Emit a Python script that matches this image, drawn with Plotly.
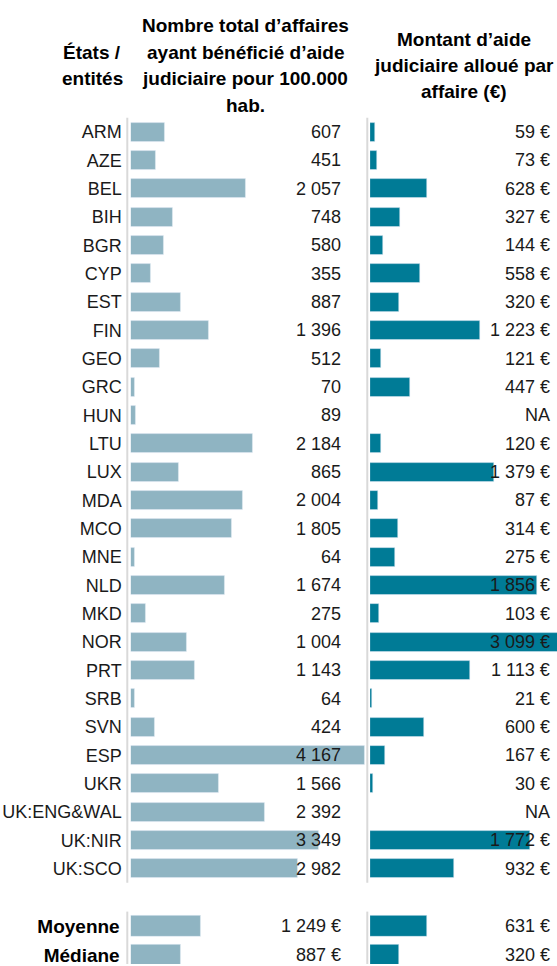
import plotly.graph_objects as go

countries = ["ARM", "AZE", "BEL", "BIH", "BGR", "CYP", "EST", "FIN", "GEO", "GRC",
             "HUN", "LTU", "LUX", "MDA", "MCO", "MNE", "NLD", "MKD", "NOR", "PRT",
             "SRB", "SVN", "ESP", "UKR", "UK:ENG&WAL", "UK:NIR", "UK:SCO"]
cases_per_100k = [607, 451, 2057, 748, 580, 355, 887, 1396, 512, 70,
                  89, 2184, 865, 2004, 1805, 64, 1674, 275, 1004, 1143,
                  64, 424, 4167, 1566, 2392, 3349, 2982]
amount_per_case = [59, 73, 628, 327, 144, 558, 320, 1223, 121, 447,
                   None, 120, 1379, 87, 314, 275, 1856, 103, 3099, 1113,
                   21, 600, 167, 30, None, 1772, 932]
summary_labels = ["Moyenne", "Médiane"]
summary_cases = [1249, 887]
summary_amount = [631, 320]

W, H = 557, 966
FONT = "Liberation Sans"
C1 = "#8fb4c2"
C2 = "#007b96"
GRID = "#d9d9d9"
TXT = "#1a1a1a"


def px_x(p):
    return p / W


def px_y(p):
    return 1 - p / H


def fmt(v, euro=False):
    if v is None:
        return "NA"
    s = f"{v:,}".replace(",", " ")
    return s + " €" if euro else s


k1 = 0.05605   # px per unit, panel 1
k2 = 0.0902    # px per unit, panel 2
p1_left, p1_right = 130.7, 366.0
p2_left, p2_right = 370.0, 557.0
x1_range = [0, (p1_right - p1_left) / k1]
x2_range = [0, (p2_right - p2_left) / k2]
x1_text = (342.5 - p1_left) / k1
x2_text = (551.5 - p2_left) / k2

rows = list(range(len(countries)))
srows = list(range(len(summary_labels)))

fig = go.Figure()
fig.add_trace(go.Bar(x=cases_per_100k, y=rows, orientation="h", marker_color=C1,
                     width=0.67, xaxis="x", yaxis="y", hoverinfo="skip"))
fig.add_trace(go.Bar(x=amount_per_case, y=rows, orientation="h", marker_color=C2,
                     width=0.67, xaxis="x2", yaxis="y", hoverinfo="skip"))
fig.add_trace(go.Bar(x=summary_cases, y=srows, orientation="h", marker_color=C1,
                     width=0.724, xaxis="x", yaxis="y2", hoverinfo="skip"))
fig.add_trace(go.Bar(x=summary_amount, y=srows, orientation="h", marker_color=C2,
                     width=0.724, xaxis="x2", yaxis="y2", hoverinfo="skip"))

VS = 18
annotations = []
for i, v in enumerate(cases_per_100k):
    annotations.append(dict(x=x1_text, y=i, xref="x", yref="y", text=fmt(v),
                            xanchor="right", yanchor="middle", showarrow=False,
                            font=dict(size=VS, color=TXT, family=FONT)))
for i, v in enumerate(amount_per_case):
    annotations.append(dict(x=x2_text, y=i, xref="x2", yref="y", text=fmt(v, True),
                            xanchor="right", yanchor="middle", showarrow=False,
                            font=dict(size=VS, color=TXT, family=FONT)))
for i, v in enumerate(summary_cases):
    annotations.append(dict(x=x1_text, y=i, xref="x", yref="y2", text=fmt(v, True),
                            xanchor="right", yanchor="middle", showarrow=False,
                            font=dict(size=VS, color=TXT, family=FONT)))
for i, v in enumerate(summary_amount):
    annotations.append(dict(x=x2_text, y=i, xref="x2", yref="y2", text=fmt(v, True),
                            xanchor="right", yanchor="middle", showarrow=False,
                            font=dict(size=VS, color=TXT, family=FONT)))

headers = [
    ("États /", 92, 53), ("entités", 92, 79),
    ("Nombre total d’affaires", 245, 26), ("ayant bénéficié d’aide", 245, 53),
    ("judiciaire pour 100.000", 245, 79), ("hab.", 245, 106),
    ("Montant d’aide", 464, 40), ("judiciaire alloué par", 464, 66),
    ("affaire (€)", 464, 92),
]
for t, cx, cy in headers:
    annotations.append(dict(x=px_x(cx), y=px_y(cy), xref="paper", yref="paper",
                            text=f"<b>{t}</b>", xanchor="center", yanchor="middle",
                            showarrow=False,
                            font=dict(size=19, color="#000", family=FONT)))

shapes = []
for lx in (127.3, 367.3):
    for yr in ("y domain", "y2 domain"):
        shapes.append(dict(type="line", xref="paper", yref=yr,
                           x0=px_x(lx), x1=px_x(lx), y0=0, y1=1,
                           line=dict(color=GRID, width=2)))

main_top, main_bot = 118.1, 884.7
sum_top = 913.5
row_px_sum = 29.0

fig.update_layout(
    width=W, height=H,
    margin=dict(l=0, r=0, t=0, b=0),
    paper_bgcolor="white", plot_bgcolor="white",
    showlegend=False, bargap=0,
    font=dict(family=FONT, color=TXT),
    xaxis=dict(domain=[px_x(p1_left), px_x(p1_right)], range=x1_range,
               showgrid=False, zeroline=False, showticklabels=False, anchor="y"),
    xaxis2=dict(domain=[px_x(p2_left), px_x(p2_right)], range=x2_range,
                showgrid=False, zeroline=False, showticklabels=False, anchor="y"),
    yaxis=dict(domain=[px_y(main_bot), px_y(main_top)], range=[26.5, -0.5],
               tickvals=rows, ticktext=countries, showgrid=False, zeroline=False,
               ticks="", ticklabelstandoff=8, anchor="x",
               ticklabeloverflow="allow",
               tickfont=dict(size=VS, color=TXT, family=FONT)),
    yaxis2=dict(domain=[0, px_y(sum_top)],
                range=[-0.5 + (H - sum_top) / row_px_sum, -0.5],
                tickvals=srows, ticktext=[f"<b>{s}</b>" for s in summary_labels],
                showgrid=False, zeroline=False, ticks="", ticklabelstandoff=10,
                anchor="x", ticklabeloverflow="allow",
                tickfont=dict(size=19, color="#000", family=FONT)),
    annotations=annotations,
    shapes=shapes,
)

fig.write_html(
    "out.html",
    config={"displayModeBar": False},
    post_script="document.body.style.margin='0';document.body.style.overflow='hidden';",
)
